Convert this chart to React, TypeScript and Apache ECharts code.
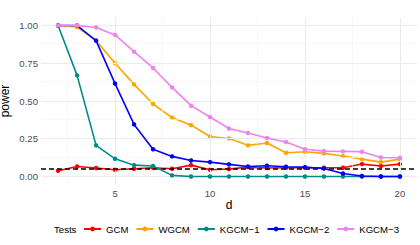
import React, { useEffect, useRef } from "react";
import * as echarts from "echarts";

const dValues = [2, 3, 4, 5, 6, 7, 8, 9, 10, 11, 12, 13, 14, 15, 16, 17, 18, 19, 20];
const gcm = [0.038, 0.066, 0.056, 0.044, 0.051, 0.058, 0.051, 0.075, 0.044, 0.049, 0.062, 0.056, 0.058, 0.058, 0.058, 0.058, 0.082, 0.069, 0.082];
const wgcm = [1.0, 0.99, 0.9, 0.75, 0.61, 0.48, 0.39, 0.34, 0.265, 0.252, 0.206, 0.222, 0.157, 0.164, 0.153, 0.135, 0.115, 0.095, 0.115];
const kgcm1 = [1.0, 0.67, 0.206, 0.117, 0.075, 0.069, 0.007, 0.0, 0.0, 0.0, 0.0, 0.0, 0.0, 0.0, 0.0, 0.0, 0.0, 0.0, 0.0];
const kgcm2 = [1.0, 1.0, 0.9, 0.615, 0.345, 0.18, 0.133, 0.106, 0.095, 0.08, 0.066, 0.071, 0.064, 0.062, 0.053, 0.02, 0.003, 0.0, 0.0];
const kgcm3 = [1.0, 1.0, 0.987, 0.938, 0.827, 0.719, 0.59, 0.469, 0.394, 0.318, 0.288, 0.255, 0.228, 0.18, 0.168, 0.166, 0.164, 0.126, 0.124];

const seriesNames = ["GCM", "WGCM", "KGCM\u22121", "KGCM\u22122", "KGCM\u22123"];
const seriesValues = [gcm, wgcm, kgcm1, kgcm2, kgcm3];
const seriesColors = ["#FF0000", "#FFA500", "#008B8B", "#0000FF", "#EE82EE"];

const xTicks = [5, 10, 15, 20];
const xMinorGrid = [2.5, 7.5, 12.5, 17.5];
const yTicks = [0, 0.25, 0.5, 0.75, 1.0];
const yMinorGrid = [0.125, 0.375, 0.625, 0.875];
const nominalLevel = 0.05;

const FONT = "'Liberation Sans', Arial, sans-serif";
const SMALL = 9.6;
const TITLE = 12;

export default function App() {
  const ref = useRef<HTMLDivElement>(null);
  useEffect(() => {
    if (!ref.current) return;
    const chart = echarts.init(ref.current, undefined, { renderer: "svg" });
    const major = { color: "#EBEBEB", width: 1, type: "solid" as const };
    const minor = { color: "#F3F3F3", width: 0.6, type: "solid" as const };
    const gridLines: any[] = [
      ...xMinorGrid.map((v) => ({ xAxis: v, lineStyle: minor })),
      ...yMinorGrid.map((v) => ({ yAxis: v, lineStyle: minor })),
      ...xTicks.map((v) => ({ xAxis: v, lineStyle: major })),
      ...yTicks.map((v) => ({ yAxis: v, lineStyle: major })),
    ];
    chart.setOption({
      animation: false,
      textStyle: { fontFamily: FONT },
      grid: { left: 41, right: 3, top: 18, bottom: 61, containLabel: false, outerBoundsMode: "none" },
      xAxis: {
        type: "value",
        min: 1.1,
        max: 20.9,
        name: "d",
        nameLocation: "middle",
        nameGap: 15,
        nameMoveOverlap: false,
        nameTextStyle: { fontSize: TITLE, color: "#000", fontFamily: FONT },
        axisLine: { show: false },
        axisTick: { show: false, customValues: xTicks },
        splitLine: { show: false },
        axisLabel: {
          customValues: xTicks,
          color: "#4D4D4D",
          fontSize: SMALL,
          margin: 4,
          fontFamily: FONT,
        },
      },
      yAxis: {
        type: "value",
        min: -0.05,
        max: 1.05,
        name: "power",
        nameLocation: "middle",
        nameGap: 30,
        nameMoveOverlap: false,
        nameTextStyle: { fontSize: TITLE, color: "#000", fontFamily: FONT },
        axisLine: { show: false },
        axisTick: { show: false, customValues: yTicks },
        splitLine: { show: false },
        axisLabel: {
          customValues: yTicks,
          formatter: (v: number) => v.toFixed(2),
          color: "#4D4D4D",
          fontSize: SMALL,
          margin: 3,
          fontFamily: FONT,
        },
      },
      legend: {
        left: 83,
        top: 224,
        padding: 0,
        itemWidth: 17,
        itemHeight: 6,
        itemGap: 7,
        textStyle: { fontSize: SMALL, color: "#000", fontFamily: FONT },
        data: seriesNames,
      },
      graphic: [
        {
          type: "text",
          left: 54,
          top: 224,
          style: { text: "Tests", fontSize: SMALL, fill: "#000", fontFamily: FONT },
        },
      ],
      series: [
        {
          type: "line",
          name: "__grid",
          data: [],
          z: 0,
          silent: true,
          markLine: {
            silent: true,
            symbol: "none",
            label: { show: false },
            data: gridLines,
          },
        },
        ...seriesNames.map((name, i) => ({
          type: "line",
          name,
          data: dValues.map((d, j) => [d, seriesValues[i][j]]),
          color: seriesColors[i],
          lineStyle: { width: 1.6, color: seriesColors[i] },
          itemStyle: { color: seriesColors[i] },
          symbol: "circle",
          symbolSize: 4.5,
          z: 3 + i,
        })),
        {
          type: "line",
          name: "__ref",
          data: [],
          z: 20,
          silent: true,
          markLine: {
            silent: true,
            symbol: "none",
            label: { show: false },
            lineStyle: { color: "#000", width: 1.6, type: [5, 3] },
            data: [{ yAxis: nominalLevel }],
          },
        },
      ],
    });
    return () => chart.dispose();
  }, []);
  return <div ref={ref} style={{ width: 420, height: 245, position: "absolute", left: 0, top: 0 }} />;
}
